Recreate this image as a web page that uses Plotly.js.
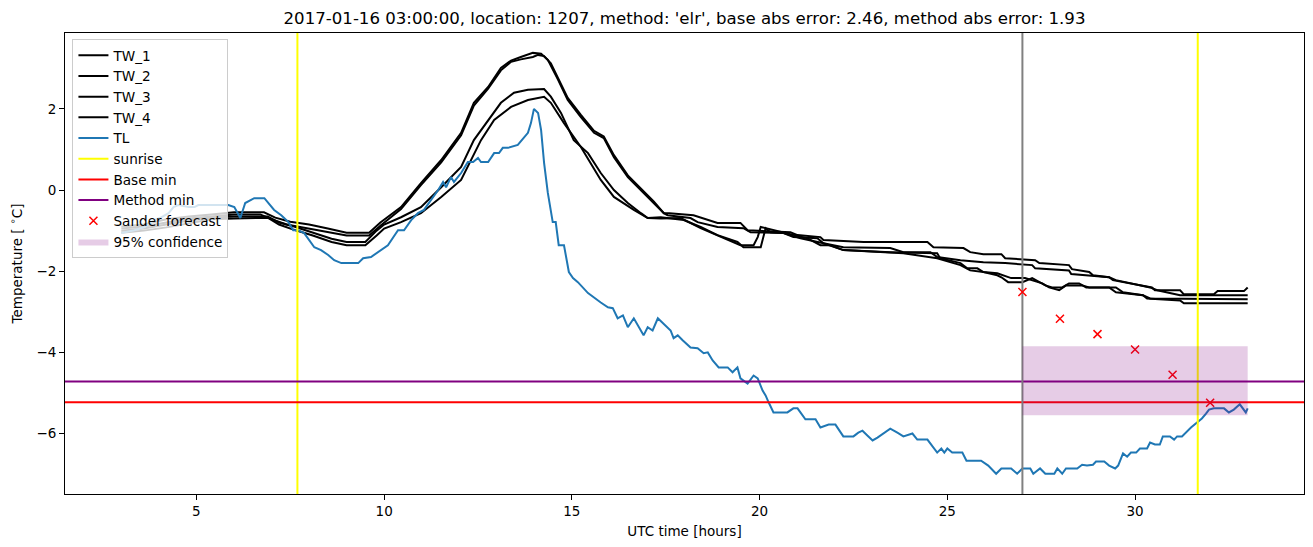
<!DOCTYPE html>
<html>
<head>
<meta charset="utf-8">
<script src="https://cdn.plot.ly/plotly-3.0.1.min.js"></script>
<style>html,body{margin:0;padding:0;background:#fff;}#chart{width:1313px;height:547px;}</style>
</head>
<body>
<div id="chart"></div>
<script>
// ---- data (hours UTC, temperature in degC) ----
const tl_hours = [3.00,3.35,3.62,3.88,4.07,4.26,4.39,4.52,4.79,4.95,5.05,5.48,5.85,6.01,6.17,6.30,6.54,6.81,7.07,7.26,7.45,7.58,7.71,7.87,8.14,8.32,8.51,8.67,8.86,9.31,9.44,9.65,9.84,10.00,10.10,10.37,10.53,10.72,10.90,11.06,11.25,11.44,11.57,11.65,11.78,11.86,12.05,12.23,12.37,12.50,12.58,12.77,12.93,13.06,13.16,13.30,13.56,13.83,13.91,13.99,14.10,14.18,14.26,14.36,14.49,14.57,14.65,14.79,14.92,15.03,15.16,15.43,15.77,15.96,16.09,16.22,16.36,16.49,16.65,16.91,17.02,17.15,17.29,17.63,17.71,17.82,17.95,18.16,18.35,18.51,18.62,18.75,18.91,19.15,19.28,19.41,19.49,19.68,19.84,19.95,20.08,20.16,20.24,20.37,20.74,20.90,21.01,21.09,21.22,21.49,21.62,21.84,22.02,22.23,22.50,22.63,22.74,22.87,23.01,23.14,23.30,23.48,23.67,23.83,24.07,24.20,24.47,24.73,24.84,24.92,25.00,25.13,25.40,25.51,25.90,26.09,26.30,26.44,26.70,26.86,27.00,27.21,27.29,27.47,27.61,27.85,27.93,28.06,28.16,28.46,28.59,28.72,28.88,28.96,29.18,29.31,29.47,29.55,29.68,29.79,29.89,30.03,30.13,30.32,30.40,30.53,30.66,30.74,30.93,31.04,31.12,31.25,31.49,31.62,31.78,31.89,31.97,32.10,32.37,32.50,32.63,32.79,32.95,33.00];
const tl_values = [-1.06,-0.99,-0.91,-0.74,-0.67,-0.57,-0.42,-0.37,-0.42,-0.42,-0.37,-0.37,-0.37,-0.42,-0.69,-0.32,-0.20,-0.20,-0.49,-0.62,-0.79,-0.99,-0.99,-1.06,-1.41,-1.48,-1.60,-1.73,-1.80,-1.80,-1.68,-1.65,-1.53,-1.41,-1.36,-0.99,-0.99,-0.74,-0.57,-0.49,-0.25,0.00,0.20,0.07,0.32,0.20,0.42,0.69,0.69,0.79,0.69,0.69,0.91,0.91,1.04,1.04,1.11,1.41,1.65,2.00,1.90,1.48,0.67,-0.07,-0.79,-0.79,-1.36,-1.36,-2.02,-2.17,-2.27,-2.54,-2.77,-2.89,-2.91,-3.16,-3.09,-3.38,-3.16,-3.58,-3.38,-3.46,-3.16,-3.46,-3.65,-3.58,-3.70,-3.88,-3.90,-4.02,-4.00,-4.20,-4.37,-4.37,-4.49,-4.37,-4.64,-4.77,-4.57,-4.64,-4.94,-5.06,-5.23,-5.48,-5.48,-5.38,-5.38,-5.48,-5.65,-5.65,-5.85,-5.78,-5.78,-6.07,-6.07,-5.98,-5.93,-6.05,-6.17,-6.10,-6.00,-5.88,-5.98,-6.07,-6.00,-6.15,-6.15,-6.47,-6.37,-6.47,-6.37,-6.47,-6.47,-6.67,-6.67,-6.79,-6.99,-6.86,-6.86,-6.99,-6.86,-6.86,-6.99,-6.86,-6.99,-6.99,-6.86,-6.99,-6.86,-6.86,-6.77,-6.79,-6.77,-6.69,-6.69,-6.79,-6.86,-6.79,-6.49,-6.57,-6.47,-6.47,-6.37,-6.37,-6.22,-6.27,-6.27,-6.07,-6.07,-6.15,-6.07,-6.07,-5.85,-5.75,-5.63,-5.51,-5.41,-5.38,-5.38,-5.48,-5.41,-5.28,-5.48,-5.38];

const tw1_hours = [3.0,3.6,4.2,4.8,5.4,6.0,6.8,7.1,7.5,8.0,8.5,9.0,9.6,9.9,10.45,10.98,11.52,12.05,12.39,12.77,13.11,13.38,13.64,13.96,14.18,14.36,14.63,14.89,15.24,15.59,15.85,16.12,16.49,16.84,17.18,17.45,17.60,18.24,18.88,19.49,19.68,20.82,21.01,21.62,21.70,22.77,24.47,24.63,25.43,25.61,25.96,26.44,26.54,27.34,27.45,28.24,28.32,28.78,28.88,29.31,29.41,30.45,30.53,31.20,31.30,32.10,32.20,32.90,33.00];
const tw1_values = [-0.90,-0.85,-0.72,-0.65,-0.60,-0.55,-0.55,-0.68,-0.78,-0.85,-0.95,-1.05,-1.05,-0.80,-0.42,0.17,0.74,1.41,2.15,2.54,3.01,3.19,3.28,3.38,3.36,3.21,2.72,2.22,1.80,1.41,1.28,0.81,0.32,0.00,-0.32,-0.57,-0.57,-0.62,-0.81,-0.81,-0.99,-1.04,-1.11,-1.16,-1.23,-1.28,-1.28,-1.41,-1.43,-1.53,-1.58,-1.58,-1.68,-1.73,-1.80,-1.85,-1.95,-2.02,-2.10,-2.15,-2.22,-2.40,-2.47,-2.47,-2.57,-2.57,-2.49,-2.49,-2.40];

const tw2_hours = [3.0,3.6,4.2,4.8,5.4,6.0,6.7,7.0,7.4,8.0,8.5,9.0,9.6,9.9,10.45,10.98,11.52,12.05,12.39,12.77,13.11,13.38,13.64,13.96,14.10,14.26,14.44,14.63,14.89,15.24,15.59,15.85,16.12,16.49,16.84,17.18,17.45,17.55,18.16,18.35,18.88,19.57,19.76,20.64,20.90,21.54,21.70,22.23,23.48,23.83,24.55,24.73,25.35,25.96,26.54,27.26,27.34,28.24,28.30,29.31,29.49,30.40,30.59,31.20,33.00];
const tw2_values = [-0.95,-0.90,-0.80,-0.70,-0.65,-0.60,-0.60,-0.72,-0.85,-0.95,-1.05,-1.12,-1.12,-0.88,-0.47,0.12,0.68,1.35,2.08,2.50,2.95,3.16,3.22,3.28,3.33,3.30,3.12,2.76,2.27,1.85,1.46,1.32,0.86,0.36,0.04,-0.28,-0.57,-0.62,-0.69,-0.79,-0.91,-0.94,-1.04,-1.06,-1.16,-1.19,-1.31,-1.41,-1.43,-1.53,-1.53,-1.65,-1.73,-1.78,-1.80,-1.85,-1.93,-1.98,-2.07,-2.15,-2.22,-2.40,-2.47,-2.59,-2.59];

const tw3_hours = [3.0,3.6,4.2,4.8,5.4,6.0,6.9,7.2,7.6,8.1,8.6,9.0,9.5,9.8,10.0,10.45,10.98,11.52,12.05,12.39,12.77,13.11,13.46,13.83,14.26,14.44,14.71,15.05,15.43,15.77,16.12,16.49,16.84,17.02,17.37,17.98,18.43,18.88,19.41,19.57,20.03,20.16,20.29,20.64,21.09,21.70,22.23,23.48,24.73,24.81,25.35,25.53,25.80,25.96,26.33,26.70,27.07,27.53,27.71,27.98,28.16,28.59,28.78,29.49,29.68,30.21,30.40,33.00];
const tw3_values = [-1.00,-0.95,-0.85,-0.75,-0.68,-0.65,-0.65,-0.80,-0.90,-1.05,-1.20,-1.28,-1.28,-1.00,-0.85,-0.67,-0.42,0.07,0.57,1.23,1.73,2.15,2.40,2.47,2.49,2.30,1.90,1.23,0.91,0.42,0.00,-0.32,-0.57,-0.69,-0.67,-0.74,-0.91,-1.11,-1.28,-1.41,-1.41,-0.94,-1.04,-1.06,-1.19,-1.31,-1.48,-1.53,-1.56,-1.68,-1.80,-1.93,-1.93,-2.02,-2.05,-2.17,-2.17,-2.30,-2.40,-2.47,-2.35,-2.35,-2.40,-2.40,-2.52,-2.59,-2.67,-2.69];

const tw4_hours = [3.0,3.6,4.2,4.8,5.4,6.0,6.9,7.2,7.6,8.1,8.6,9.0,9.5,9.8,10.0,10.45,10.98,11.52,12.05,12.58,12.93,13.38,13.83,14.26,14.44,14.79,15.24,15.77,16.12,16.65,17.02,17.37,17.90,18.43,19.04,19.49,19.84,19.95,20.03,20.74,21.28,21.62,21.89,22.23,23.83,24.73,25.35,25.61,25.96,26.33,26.44,26.62,27.00,27.26,27.61,27.79,28.06,28.24,28.51,28.70,29.31,29.49,30.21,30.32,31.20,31.30,33.00];
const tw4_values = [-1.05,-1.00,-0.92,-0.82,-0.72,-0.70,-0.68,-0.85,-0.98,-1.12,-1.28,-1.36,-1.36,-1.12,-0.95,-0.79,-0.57,-0.17,0.25,1.23,1.73,2.05,2.22,2.30,2.15,1.65,1.06,0.25,-0.17,-0.49,-0.69,-0.70,-0.69,-0.94,-1.19,-1.36,-1.36,-1.16,-0.91,-1.06,-1.19,-1.36,-1.36,-1.48,-1.56,-1.68,-1.85,-1.98,-2.02,-2.10,-2.15,-2.27,-2.27,-2.17,-2.35,-2.40,-2.40,-2.30,-2.30,-2.40,-2.40,-2.52,-2.59,-2.67,-2.72,-2.79,-2.79];

const sunrise_hours = [7.69, 31.67];
const forecast_time = 27.0;
const base_min = -5.23;
const method_min = -4.72;
const forecast_hours = [27, 28, 29, 30, 31, 32];
const forecast_values = [-2.51, -3.17, -3.55, -3.93, -4.55, -5.24];
const conf_hours = [27, 33];
const conf_bounds = [-3.85, -5.55];
const x_range = [1.5, 34.5];
const y_range = [-7.49, 3.87];
const title_text = "2017-01-16 03:00:00, location: 1207, method: 'elr', base abs error: 2.46, method abs error: 1.93";

// ---- traces ----
const FONT = 'DejaVu Sans, sans-serif';
const BIG = 100;
const traces = [];
const tws = [[tw1_hours, tw1_values, 'TW_1'], [tw2_hours, tw2_values, 'TW_2'], [tw3_hours, tw3_values, 'TW_3'], [tw4_hours, tw4_values, 'TW_4']];
tws.forEach(([h, v, n]) => traces.push({x: h, y: v, name: n, type: 'scatter', mode: 'lines', line: {color: 'black', width: 2}}));
traces.push({x: tl_hours, y: tl_values, name: 'TL', type: 'scatter', mode: 'lines', line: {color: '#1f77b4', width: 2}});
const sx = [], sy = [];
sunrise_hours.forEach((h, i) => { if (i) { sx.push(null); sy.push(null); } sx.push(h, h); sy.push(-BIG, BIG); });
traces.push({x: sx, y: sy, name: 'sunrise', type: 'scatter', mode: 'lines', line: {color: '#ffff00', width: 2}});
traces.push({x: [-BIG, BIG], y: [base_min, base_min], name: 'Base min', type: 'scatter', mode: 'lines', line: {color: '#ff0000', width: 2}});
traces.push({x: [-BIG, BIG], y: [method_min, method_min], name: 'Method min', type: 'scatter', mode: 'lines', line: {color: '#800080', width: 2}});
traces.push({x: [forecast_time, forecast_time], y: [-BIG, BIG], name: 'forecast time', showlegend: false, type: 'scatter', mode: 'lines', line: {color: '#808080', width: 2}});
traces.push({x: forecast_hours, y: forecast_values, name: 'Sander forecast', type: 'scatter', mode: 'markers',
  marker: {symbol: 'x-thin', size: 8, color: '#ff0000', line: {color: '#ff0000', width: 1.5}}});
traces.push({x: [conf_hours[0], conf_hours[1], conf_hours[1], conf_hours[0], conf_hours[0]],
  y: [conf_bounds[0], conf_bounds[0], conf_bounds[1], conf_bounds[1], conf_bounds[0]],
  name: '95% confidence', type: 'scatter', mode: 'lines', fill: 'toself', fillcolor: 'rgba(128,0,128,0.2)', line: {width: 0, color: 'rgba(0,0,0,0)'}});

const axisCommon = {showgrid: false, zeroline: false, showline: true, mirror: true, linecolor: 'black', linewidth: 1,
  ticks: 'outside', ticklen: 5, tickwidth: 1, tickcolor: 'black', tickfont: {family: FONT, size: 13.5, color: 'black'}};

const layout = {
  width: 1313, height: 547,
  margin: {l: 65, r: 9, t: 33, b: 53},
  paper_bgcolor: 'white', plot_bgcolor: 'white',
  font: {family: FONT, color: 'black'},
  title: {text: title_text, font: {family: FONT, size: 16.6, color: 'black'}, x: 0.5, xref: 'paper', xanchor: 'center', y: 1 - 18/547, yref: 'container', yanchor: 'middle'},
  xaxis: Object.assign({}, axisCommon, {range: x_range, tick0: 0, dtick: 5, title: {text: 'UTC time [hours]', font: {family: FONT, size: 13.5}, standoff: 8}}),
  yaxis: Object.assign({}, axisCommon, {range: y_range, tick0: 0, dtick: 2, title: {text: 'Temperature [ <sup>∘</sup>C]', font: {family: FONT, size: 13.5}, standoff: 10}}),
  showlegend: true,
  legend: {x: 0.006, y: 0.987, xanchor: 'left', yanchor: 'top', bgcolor: 'rgba(255,255,255,0.8)', bordercolor: '#cccccc', borderwidth: 1,
    font: {family: FONT, size: 13.6, color: 'black'}, tracegroupgap: 0, itemwidth: 30}
};

Plotly.newPlot('chart', traces, layout, {displayModeBar: false, staticPlot: true});
</script>
</body>
</html>
